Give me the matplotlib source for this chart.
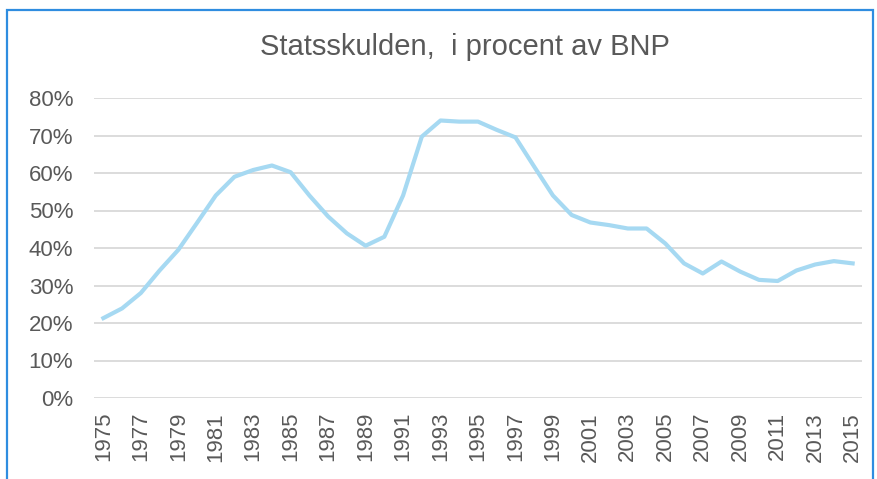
import matplotlib
matplotlib.use("Agg")
import matplotlib.pyplot as plt
from matplotlib.patches import Rectangle
from matplotlib.ticker import PercentFormatter

plt.rcParams["font.family"] = ["Liberation Sans", "DejaVu Sans"]

years = list(range(1975, 2016))
debt_pct = [21.3, 23.9, 28.0, 34.0, 39.5, 46.7, 54.0, 59.0, 60.8, 62.0,
            60.2, 54.0, 48.4, 43.9, 40.6, 43.0, 54.0, 69.7, 74.0, 73.7,
            73.7, 71.5, 69.5, 61.7, 54.0, 48.8, 46.8, 46.1, 45.2, 45.2,
            41.2, 35.9, 33.2, 36.4, 33.7, 31.5, 31.2, 34.0, 35.6, 36.5,
            35.9]
tick_years = list(range(1975, 2016, 2))
title = "Statsskulden,  i procent av BNP"

text_col = "#595959"

fig = plt.figure(figsize=(8.78, 4.79), dpi=100)
# outer chart frame (only top/left/right visible in the crop)
fig.patches.append(Rectangle((7 / 878, -0.05), 866 / 878, 1.05 - 10 / 479,
                             transform=fig.transFigure, fill=False,
                             edgecolor="#2f8de0", lw=1.6))

ax = fig.add_axes([94 / 878, 1 - 398 / 479, 768 / 878, 300 / 479])
ax.plot(years, [v / 100 for v in debt_pct], color="#a6d9f2", lw=3,
        solid_joinstyle="round", zorder=3)

ax.set_xlim(1974.5, 2015.5)
ax.set_ylim(0, 0.8)
ax.set_yticks([i / 10 for i in range(9)])
ax.yaxis.set_major_formatter(PercentFormatter(1.0, decimals=0))
ax.set_xticks(tick_years)
ax.set_xticklabels([str(y) for y in tick_years], rotation=90)
ax.grid(axis="y", color="#d9d9d9", lw=1.3)
ax.set_axisbelow(True)
for s in ax.spines.values():
    s.set_visible(False)
ax.tick_params(length=0, labelsize=16, labelcolor=text_col)
ax.tick_params(axis="y", pad=15)
ax.tick_params(axis="x", pad=10)

fig.text(465 / 878, 1 - 47 / 479, title, ha="center", va="center",
         fontsize=21, color=text_col)

fig.savefig("out.png", dpi=100)
